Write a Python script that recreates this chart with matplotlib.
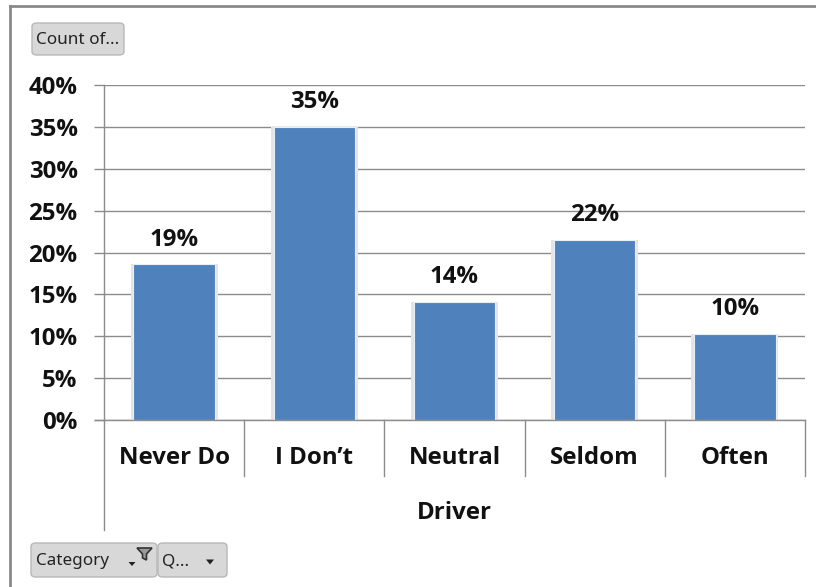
import matplotlib
matplotlib.use("Agg")
import matplotlib.pyplot as plt
from matplotlib.patches import FancyBboxPatch, Polygon
from matplotlib.lines import Line2D
import matplotlib.transforms as mtransforms

categories = ["Never Do", "I Don\u2019t", "Neutral", "Seldom", "Often"]
values = [18.6, 35.0, 14.1, 21.5, 10.3]
labels = ["19%", "35%", "14%", "22%", "10%"]
yticks = [0, 5, 10, 15, 20, 25, 30, 35, 40]
ytick_labels = [f"{t}%" for t in yticks]
axis_title = "Driver"

W, H = 816, 587
fig = plt.figure(figsize=(W / 100, H / 100), dpi=100)
fig.patch.set_facecolor("white")

def fx(x):
    return x / W

def fy(y):
    return 1 - y / H

FONT = "Open Sans"
FS = 17.3
UI_FONT = "Noto Sans"
UFS = 12.3

# Axes: x 104..805, y 85..420
ax = fig.add_axes([fx(104), fy(420), fx(805) - fx(104), fy(85) - fy(420)])
ax.set_xlim(-0.5, len(categories) - 0.5)
ax.set_ylim(0, 40)

x = list(range(len(categories)))
# subtle shadow
ax.bar(x, values, width=0.62, color="#e4e4e4", zorder=2)
ax.bar(x, values, width=0.58, color="#4F81BD", edgecolor="#e6eef8", linewidth=0.8, zorder=3)

for xi, v, lab in zip(x, values, labels):
    ax.annotate(lab, (xi, v), xytext=(0, 9), textcoords="offset points",
                ha="center", va="bottom", fontsize=FS, fontweight="bold",
                family=FONT, color="#111111")

ax.set_yticks(yticks)
ax.set_yticklabels(ytick_labels, fontsize=FS, fontweight="bold", family=FONT, color="#111111")
ax.yaxis.grid(True, color="#8c8c8c", linewidth=1.0, zorder=0)
ax.set_axisbelow(True)
ax.tick_params(axis="y", length=7, color="#8c8c8c", pad=12, width=1.0)
ax.set_xticks([])
for s in ["top", "right", "bottom"]:
    ax.spines[s].set_visible(False)
ax.spines["left"].set_color("#8c8c8c")
ax.spines["left"].set_linewidth(1.0)

# Category separators
trans = mtransforms.blended_transform_factory(ax.transData, ax.transAxes)
sep_bottom = (420 - 476) / (420 - 85)
left_bottom = (420 - 530) / (420 - 85)
ax.plot([-0.5, 4.5], [0, 0], transform=trans, color="#8c8c8c", lw=1.0, clip_on=False, zorder=5)
ax.plot([-0.5 - 9 / 140.2, -0.5], [0, 0], transform=trans, color="#8c8c8c", lw=1.0, clip_on=False)
for b in [0.5, 1.5, 2.5, 3.5, 4.5]:
    ax.plot([b, b], [0, sep_bottom], transform=trans, color="#8c8c8c", lw=1.0, clip_on=False)
ax.plot([-0.5, -0.5], [0, left_bottom], transform=trans, color="#8c8c8c", lw=1.0, clip_on=False)

lab_y = (420 - 458) / (420 - 85)
for xi, c in zip(x, categories):
    ax.text(xi, lab_y, c, transform=trans, ha="center", va="center", fontsize=FS,
            fontweight="bold", family=FONT, color="#111111")
ax.text(2, (420 - 513) / (420 - 85), axis_title, transform=trans, ha="center", va="center",
        fontsize=FS, fontweight="bold", family=FONT, color="#111111")

# Outer frame
fig.add_artist(Line2D([fx(10), fx(10)], [fy(6), 0], color="#8a8a8a", lw=2))
fig.add_artist(Line2D([fx(10), 1], [fy(6), fy(6)], color="#8a8a8a", lw=2))

def button(x0, y0, x1, y1):
    p = FancyBboxPatch((fx(x0), fy(y1)), fx(x1) - fx(x0), fy(y0) - fy(y1),
                       boxstyle="round,pad=0,rounding_size=0.006",
                       facecolor="#d8d8d8", edgecolor="#b8b8b8", lw=1.0,
                       transform=fig.transFigure)
    fig.add_artist(p)

button(32, 23, 124, 55)
fig.text(fx(36), fy(40), "Count of...", fontsize=UFS, family=UI_FONT, color="#222222",
         ha="left", va="center")

button(31, 543, 157, 577)
button(158, 543, 227, 577)
fig.text(fx(36), fy(561), "Category", fontsize=UFS, family=UI_FONT, color="#222222",
         ha="left", va="center")
fig.text(fx(162), fy(561), "Q...", fontsize=UFS, family=UI_FONT, color="#222222",
         ha="left", va="center")

def tri(cx, cy, w=8, h=5):
    fig.add_artist(Polygon([(fx(cx - w / 2), fy(cy - h / 2)), (fx(cx + w / 2), fy(cy - h / 2)),
                            (fx(cx), fy(cy + h / 2))], closed=True, facecolor="#222222",
                           edgecolor="none", transform=fig.transFigure))

tri(132, 564, 7, 4)
tri(210, 562, 8, 5)
# funnel icon
fig.add_artist(Polygon([(fx(137), fy(548)), (fx(152), fy(548)), (fx(146.5), fy(554)),
                        (fx(146.5), fy(560)), (fx(142.5), fy(558)), (fx(142.5), fy(554))],
                       closed=True, facecolor="#9a9a9a", edgecolor="#333333", lw=1.2,
                       transform=fig.transFigure))

fig.savefig("out.png", dpi=100, facecolor="white")
